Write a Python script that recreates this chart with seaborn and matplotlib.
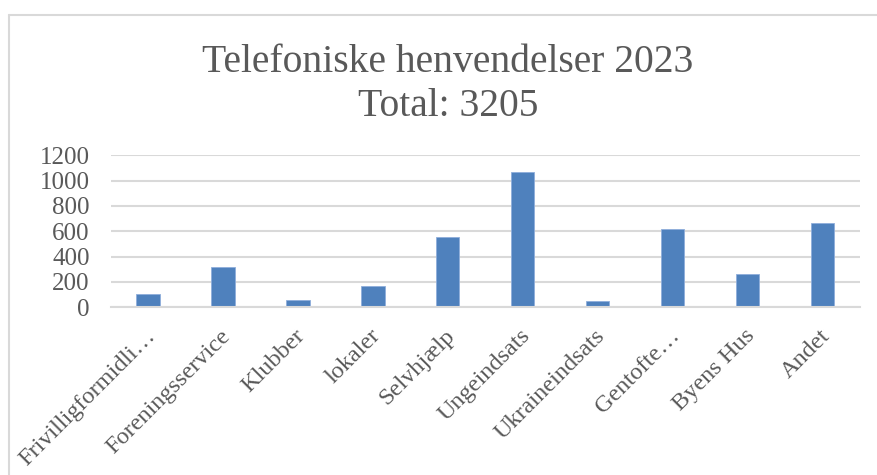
import matplotlib
matplotlib.use("Agg")
import matplotlib.pyplot as plt
import matplotlib.transforms as mtransforms
from matplotlib.lines import Line2D
import seaborn as sns

# Data
categories = ["Frivilligformidli…", "Foreningsservice", "Klubber", "lokaler", "Selvhjælp",
              "Ungeindsats", "Ukraineindsats", "Gentofte…", "Byens Hus", "Andet"]
calls = [103, 318, 55, 166, 555, 1068, 47, 621, 261, 663]
y_ticks = [0, 200, 400, 600, 800, 1000, 1200]

sns.set_theme(style="white")
plt.rcParams["font.family"] = ["Liberation Serif", "DejaVu Serif"]
text_color = "#595959"
grid_color = "#d9d9d9"

fig = plt.figure(figsize=(8.78, 4.75), dpi=100)
ax = fig.add_axes([0.126, 0.353, 0.8535, 0.32])

sns.barplot(x=categories, y=calls, color="#4F81BD", saturation=1, width=0.31,
            edgecolor="#8FAEDB", linewidth=0.6, ax=ax)

ax.set_ylim(0, 1200)
ax.set_xlim(-0.5, len(categories) - 0.5)
ax.set_yticks(y_ticks)
ax.yaxis.grid(True, color=grid_color, linewidth=1.5)
ax.set_axisbelow(True)
for side in ["left", "right", "top"]:
    ax.spines[side].set_visible(False)
ax.spines["bottom"].set_color(grid_color)
ax.spines["bottom"].set_linewidth(1.5)

ax.tick_params(axis="y", length=0, pad=15, labelsize=18, labelcolor=text_color)
ax.tick_params(axis="x", length=0, pad=4, labelsize=17.5, labelcolor=text_color)
shift = mtransforms.ScaledTranslation(4 / 100, -20 / 100, fig.dpi_scale_trans)
for lbl in ax.get_xticklabels():
    lbl.set_rotation(45)
    lbl.set_ha("right")
    lbl.set_va("center")
    lbl.set_rotation_mode("anchor")
    lbl.set_transform(lbl.get_transform() + shift)

fig.text(448 / 878, 1 - 71.7 / 475, "Telefoniske henvendelser 2023", ha="center", va="baseline",
         fontsize=28.5, color=text_color)
fig.text(448 / 878, 1 - 116 / 475, "Total: 3205", ha="center", va="baseline",
         fontsize=28.5, color=text_color)

# chart frame (only top and left edges are inside the crop)
fig.add_artist(Line2D([9 / 878, 9 / 878], [0, 1 - 14.5 / 475], transform=fig.transFigure,
                      color=grid_color, linewidth=1.5))
fig.add_artist(Line2D([9 / 878, 1], [1 - 14.5 / 475, 1 - 14.5 / 475], transform=fig.transFigure,
                      color=grid_color, linewidth=1.5))

fig.savefig("out.png", dpi=100)
